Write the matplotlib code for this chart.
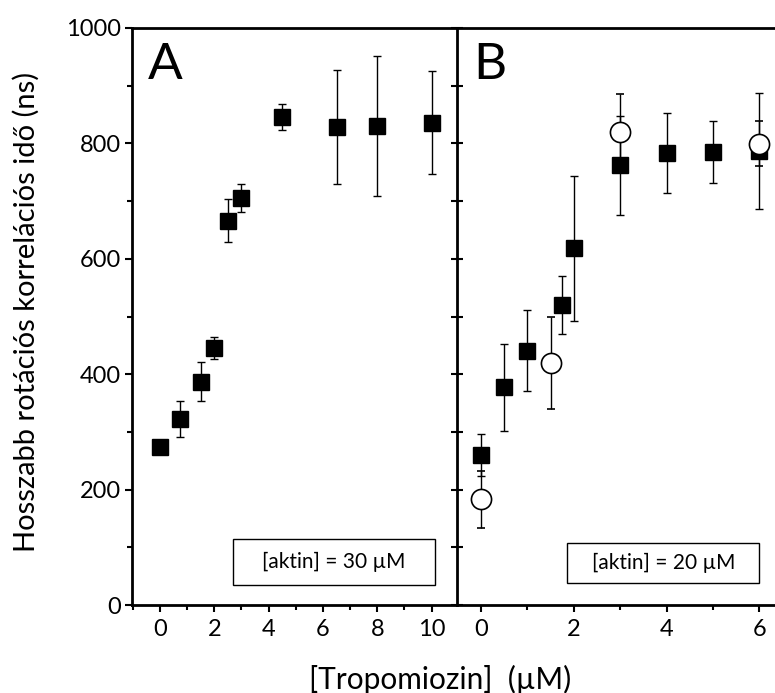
import matplotlib

matplotlib.use("Agg")
import matplotlib.pyplot as plt
from matplotlib.patches import Rectangle
from matplotlib.ticker import MultipleLocator

plt.rcParams["font.family"] = ["Lato", "DejaVu Sans"]

# Panel A: [aktin] = 30 uM
a_x = [0, 0.75, 1.5, 2, 2.5, 3, 4.5, 6.5, 8, 10]
a_y = [274, 322, 387, 445, 666, 705, 846, 828, 830, 836]
a_err = [6, 31, 34, 19, 37, 24, 23, 99, 121, 89]

# Panel B: [aktin] = 20 uM, filled squares and open circles
b_sq_x = [0, 0.5, 1, 1.75, 2, 3, 4, 5, 6]
b_sq_y = [260, 377, 441, 520, 618, 762, 783, 785, 787]
b_sq_err = [37, 75, 70, 50, 126, 86, 69, 54, 101]

b_ci_x = [0, 1.5, 3, 6]
b_ci_y = [183, 419, 820, 799]
b_ci_err = [50, 80, 65, 39]

W, H = 775, 693
fig = plt.figure(figsize=(W / 100, H / 100), dpi=100)
ax_a = fig.add_axes([132 / W, 1 - 605 / H, (456 - 132) / W, (605 - 28) / H])
ax_b = fig.add_axes([457 / W, 1 - 605 / H, (W - 457) / W, (605 - 28) / H])

err_kw = dict(ecolor="black", elinewidth=1.0, capsize=3, capthick=1.0, linestyle="none")

ax_a.errorbar(a_x, a_y, yerr=a_err, marker="s", ms=12, mfc="black", mec="black", **err_kw)
ax_b.errorbar(b_sq_x, b_sq_y, yerr=b_sq_err, marker="s", ms=12, mfc="black", mec="black", **err_kw)
ax_b.errorbar(b_ci_x, b_ci_y, yerr=b_ci_err, marker="o", ms=14.5, mfc="white", mec="black",
              mew=1.2, zorder=4, **err_kw)

ax_a.set_xlim(-1.03, 10.9)
ax_b.set_xlim(-0.52, 6.34)
for ax in (ax_a, ax_b):
    ax.set_ylim(0, 1000)
    ax.yaxis.set_major_locator(MultipleLocator(200))
    ax.yaxis.set_minor_locator(MultipleLocator(100))
    ax.xaxis.set_major_locator(MultipleLocator(2))
    ax.xaxis.set_minor_locator(MultipleLocator(1))
    for s in ax.spines.values():
        s.set_linewidth(2.0)
    ax.spines["right"].set_visible(False)
    ax.tick_params(axis="x", which="major", direction="out", length=5, width=1.5,
                   labelsize=17, pad=5, top=False)
    ax.tick_params(axis="x", which="minor", direction="out", length=3.5, width=1.5, top=False)

ax_a.tick_params(axis="y", which="major", direction="out", length=5, width=1.5, labelsize=17,
                 pad=3, right=False)
ax_a.tick_params(axis="y", which="minor", direction="out", length=3.5, width=1.5, right=False)
ax_b.tick_params(axis="y", which="both", direction="inout", length=9, width=1.5,
                 labelleft=False, right=False)

ax_a.text(0.05, 0.975, "A", transform=ax_a.transAxes, fontsize=37, va="top", ha="left")
ax_b.text(0.05, 0.975, "B", transform=ax_b.transAxes, fontsize=37, va="top", ha="left")

# legend-like boxes: (x0, y0, x1, y1) in axes fractions
for ax, (x0, y0, x1, y1), label in [
    (ax_a, (0.313, 0.035, 0.935, 0.114), "[aktin] = 30 \u00b5M"),
    (ax_b, (0.347, 0.038, 0.951, 0.107), "[aktin] = 20 \u00b5M"),
]:
    ax.add_patch(Rectangle((x0, y0), x1 - x0, y1 - y0, transform=ax.transAxes,
                           fc="white", ec="black", lw=1.0, zorder=5))
    ax.text((x0 + x1) / 2, (y0 + y1) / 2, label, transform=ax.transAxes, fontsize=15,
            ha="center", va="center", zorder=6)

fig.text(26 / W, 1 - 312 / H, "Hosszabb rotációs korrelációs idő (ns)", rotation=90,
         fontsize=21, ha="center", va="center")
fig.text(440 / W, 1 - 679 / H, "[Tropomiozin]  (\u00b5M)", fontsize=21.5, ha="center", va="center")

fig.savefig("out.png", dpi=100)
